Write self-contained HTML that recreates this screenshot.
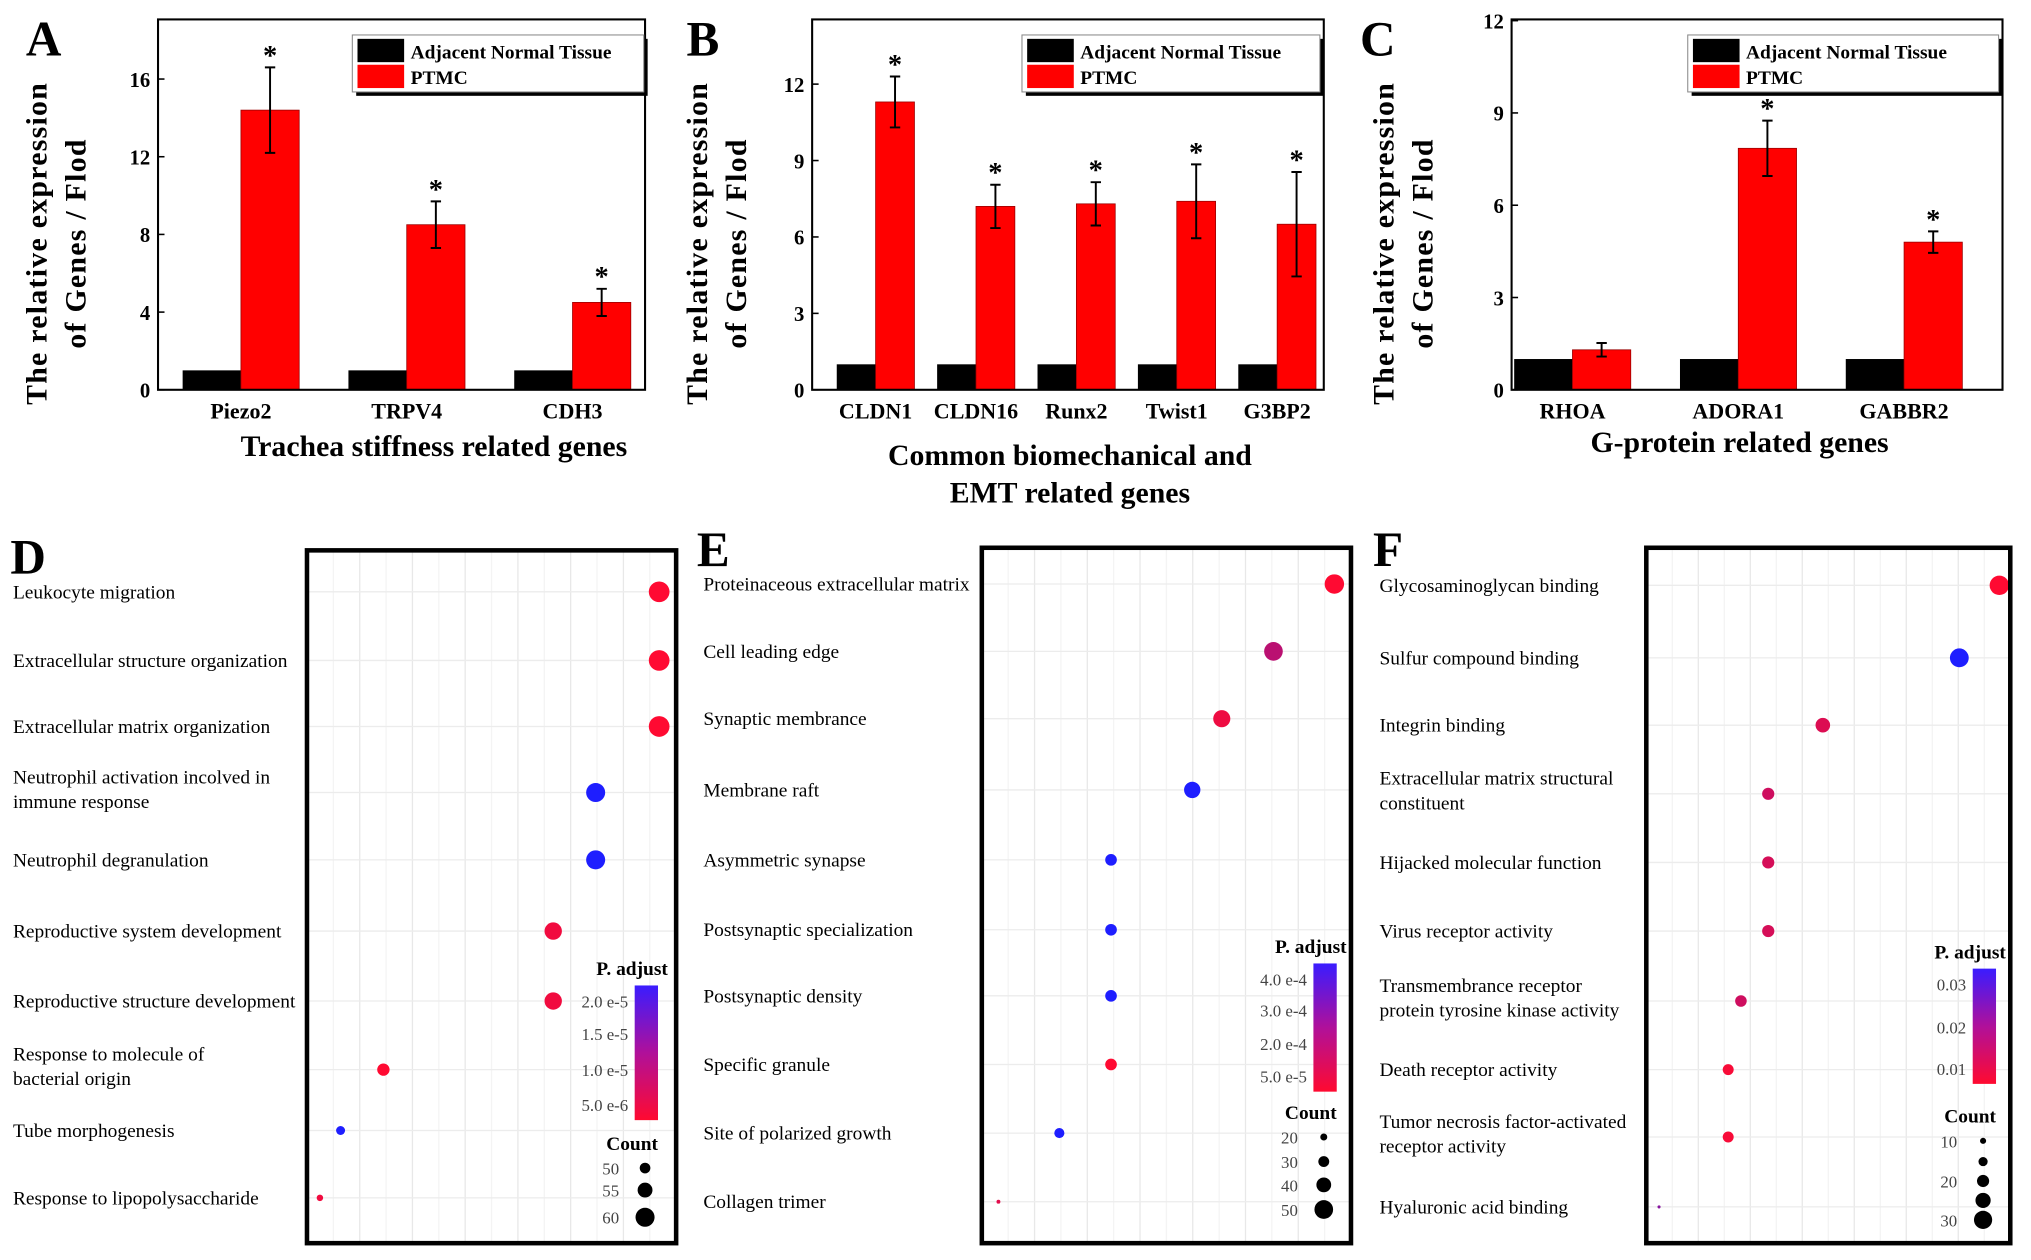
<!DOCTYPE html>
<html><head><meta charset="utf-8"><style>
html,body{margin:0;padding:0;background:#fff;}
svg{display:block;}
text{font-family:"Liberation Serif",serif;}
</style></head><body>
<svg id="fig" width="2031" height="1260" viewBox="0 0 1568 973" preserveAspectRatio="none" xmlns="http://www.w3.org/2000/svg">
<rect width="1568" height="973" fill="#fff"/>
</svg>
<script>
// ---- Panel A data ----
const aCategories = ["Piezo2","TRPV4","CDH3"];
const aNormal = [1,1,1];
const aPTMC = [14.4,8.5,4.5];
const aErr = [2.2,1.2,0.7];
const aStar = [true,true,true];
const aTicks = [0,4,8,12,16];
// ---- Panel B data ----
const bCategories = ["CLDN1","CLDN16","Runx2","Twist1","G3BP2"];
const bNormal = [1,1,1,1,1];
const bPTMC = [11.3,7.2,7.3,7.4,6.5];
const bErr = [1.0,0.85,0.85,1.45,2.05];
const bStar = [true,true,true,true,true];
const bTicks = [0,3,6,9,12];
// ---- Panel C data ----
const cCategories = ["RHOA","ADORA1","GABBR2"];
const cNormal = [1,1,1];
const cPTMC = [1.3,7.85,4.8];
const cErr = [0.22,0.9,0.35];
const cStar = [false,true,true];
const cTicks = [0,3,6,9,12];
// ---- Panel D data ----
const dTerms = [["Leukocyte migration"],["Extracellular structure organization"],["Extracellular matrix organization"],["Neutrophil activation incolved in","immune response"],["Neutrophil degranulation"],["Reproductive system development"],["Reproductive structure development"],["Response to molecule of","bacterial origin"],["Tube morphogenesis"],["Response to lipopolysaccharide"]];
const dRatio = [0.954,0.954,0.954,0.782,0.782,0.667,0.667,0.207,0.091,0.035];
const dCount = [62,62,62,60,60,58,58,52,48,45];
const dPadj = [3e-6,3e-6,3e-6,2.2e-5,2.2e-5,6e-6,6e-6,5e-6,2.2e-5,6e-6];
const dPTicks = ["2.0 e-5","1.5 e-5","1.0 e-5","5.0 e-6"];
const dCountTicks = [50,55,60];
// ---- Panel E data ----
const eTerms = [["Proteinaceous extracellular matrix"],["Cell leading edge"],["Synaptic membrance"],["Membrane raft"],["Asymmetric synapse"],["Postsynaptic specialization"],["Postsynaptic density"],["Specific granule"],["Site of polarized growth"],["Collagen trimer"]];
const eRatio = [0.955,0.79,0.65,0.57,0.35,0.35,0.35,0.35,0.21,0.045];
const eCount = [52,50,46,44,32,32,32,32,28,12];
const ePadj = [2e-5,1.5e-4,6e-5,4.4e-4,4.4e-4,4.4e-4,4.4e-4,3e-5,4.4e-4,8e-5];
const ePTicks = ["4.0 e-4","3.0 e-4","2.0 e-4","5.0 e-5"];
const eCountTicks = [20,30,40,50];
// ---- Panel F data ----
const fTerms = [["Glycosaminoglycan binding"],["Sulfur compound binding"],["Integrin binding"],["Extracellular matrix structural","constituent"],["Hijacked molecular function"],["Virus receptor activity"],["Transmembrance receptor","protein tyrosine kinase activity"],["Death receptor activity"],["Tumor necrosis factor-activated","receptor activity"],["Hyaluronic acid binding"]];
const fRatio = [0.97,0.86,0.485,0.335,0.335,0.335,0.26,0.225,0.225,0.035];
const fCount = [32,31,24,20,20,20,19,18,18,5];
const fPadj = [0.003,0.035,0.008,0.01,0.009,0.009,0.01,0.004,0.004,0.02];
const fPTicks = ["0.03","0.02","0.01"];
const fCountTicks = [10,"",20,"",30];

const NS="http://www.w3.org/2000/svg";
const svg=document.getElementById('fig');
function mk(tag,attrs,parent,txt){const e=document.createElementNS(NS,tag);for(const k in attrs)e.setAttribute(k,attrs[k]);if(txt!==undefined)e.textContent=txt;(parent||svg).appendChild(e);return e;}

function barPanel(letter,lx,fx0,fx1,fy0,fy1,ymax,cats,normal,ptmc,err,stars,ticks,firstC,step,bw,titleLines,titleX,titleY,ytX,legX0,legX1,prefix){
  const g=mk('g',{});
  
  
  const y=v=>fy1-(v/ymax)*(fy1-fy0);
  const L=mk('text',{x:lx,y:43,'font-size':38,'font-weight':'bold'},g,letter);
  
  
  cats.forEach((c,i)=>{
    const cx=firstC+i*step;
    const b1=mk('rect',{x:cx-bw,y:y(normal[i]),width:bw,height:y(0)-y(normal[i]),fill:'#000'},g);
    
    
    const b2=mk('rect',{x:cx,y:y(ptmc[i]),width:bw,height:y(0)-y(ptmc[i]),fill:'#f00',stroke:'#900','stroke-width':0.6},g);
    
    
    const ex=cx+bw/2, t=y(ptmc[i]+err[i]), bo=y(ptmc[i]-err[i]);
    const eb=mk('path',{d:`M${ex},${t}V${bo}M${ex-4},${t}H${ex+4}M${ex-4},${bo}H${ex+4}`,stroke:'#000','stroke-width':1.5,fill:'none'},g);
    
    
    if(stars[i]){
      const st=mk('text',{x:ex,y:t-2,'font-size':22,'text-anchor':'middle','font-weight':'bold'},g,'*');
      
      
    }
    const tl=mk('text',{x:cx,y:fy1+22,'font-size':17,'font-weight':'bold','text-anchor':'middle'},g,c);
    
    
  });
  ticks.forEach(v=>{
    mk('line',{x1:fx0,x2:fx0+5,y1:y(v),y2:y(v),stroke:'#000','stroke-width':1.2},g);
    const tt=mk('text',{x:fx0-6,y:y(v)+6,'font-size':16,'font-weight':'bold','text-anchor':'end'},g,String(v));
    
    
  });
  const fr=mk('rect',{x:fx0,y:fy0,width:fx1-fx0,height:fy1-fy0,fill:'none',stroke:'#000','stroke-width':1.6},g);
  
  
  titleLines.forEach((s,i)=>{
    const xt=mk('text',{x:titleX,y:titleY+i*29,'font-size':23,'font-weight':'bold','text-anchor':'middle'},g,s);
    
    
  });
  const cy=(fy0+fy1)/2+30;
  const yt1=mk('text',{x:0,y:0,'font-size':23,'font-weight':'bold','text-anchor':'middle','letter-spacing':1,transform:`translate(${ytX},${cy}) rotate(-90)`},g,'The relative expression');
  
  
  const yt2=mk('text',{x:0,y:0,'font-size':23,'font-weight':'bold','text-anchor':'middle','letter-spacing':1,transform:`translate(${ytX+30},${cy}) rotate(-90)`},g,'of Genes / Flod');
  
  
  const lg=mk('g',{},g);
  
  
  mk('rect',{x:legX0+3,y:30,width:legX1-legX0,height:44,fill:'#000'},lg);
  mk('rect',{x:legX0,y:27,width:legX1-legX0,height:44,fill:'#fff',stroke:'#888','stroke-width':0.8},lg);
  mk('rect',{x:legX0+4,y:30,width:36,height:18,fill:'#000'},lg);
  mk('rect',{x:legX0+4,y:50,width:36,height:18,fill:'#f00'},lg);
  const le1=mk('text',{x:legX0+45,y:45,'font-size':15,'font-weight':'bold'},lg,'Adjacent Normal Tissue');
  
  
  const le2=mk('text',{x:legX0+45,y:65,'font-size':15,'font-weight':'bold'},lg,'PTMC');
  
  
}
barPanel('A',20,122,498,15,301,19.07,aCategories,aNormal,aPTMC,aErr,aStar,aTicks,186,128,45,['Trachea stiffness related genes'],335,352,36,272,497,'panel-a');
barPanel('B',530,627,1022,15,301,14.54,bCategories,bNormal,bPTMC,bErr,bStar,bTicks,676,77.5,30,['Common biomechanical and','EMT related genes'],826,359,546,789,1019,'panel-b');
barPanel('C',1050,1167,1546,15,301,12.04,cCategories,cNormal,cPTMC,cErr,cStar,cTicks,1214,128,45,['G-protein related genes'],1343,349,1076,1303,1543,'panel-c');

function pcolor(t){ // t: 0 red -> 1 blue
  const r=Math.round(255*(1-t)+30*t), gg=Math.round(10*(1-t)+30*t), b=Math.round(50*(1-t)+255*t);
  return `rgb(${r},${gg},${b})`;
}
function dotPanel(letter,lx,ly,labX,fx0,fx1,fy0,fy1,rowsY,terms,ratio,count,padj,pmin,pmax,rmin,rmax,cmin,cmax,pTicks,pTickY,cTicks,cTickY,legX,prefix){
  const g=mk('g',{});
  
  
  const L=mk('text',{x:lx,y:ly,'font-size':38,'font-weight':'bold'},g,letter);
  
  
  const xs=v=>fx0+v*(fx1-fx0);
  const rs=c=>rmin+(c-cmin)/(cmax-cmin)*(rmax-rmin);
  const cs=p=>pcolor(Math.max(0,Math.min(1,(p-pmin)/(pmax-pmin))));
  for(let k=1;k<14;k++){mk('line',{x1:fx0+k*(fx1-fx0)/14,x2:fx0+k*(fx1-fx0)/14,y1:fy0,y2:fy1,stroke:k%2?'#f4f4f4':'#e8e8e8','stroke-width':1},g);}
  terms.forEach((t,i)=>{
    const yy=rowsY[i];
    mk('line',{x1:fx0,x2:fx1,y1:yy,y2:yy,stroke:'#ececec','stroke-width':1},g);
    t.forEach((s,j)=>{
      const off=t.length===1?5:(j===0?-7:12);
      const tx=mk('text',{x:labX,y:yy+off,'font-size':15},g,s);
      
      
    });
    const c=mk('circle',{cx:xs(ratio[i]),cy:yy,r:Math.max(1.2,rs(count[i])),fill:cs(padj[i])},g);
    
    
  });
  const lg=mk('g',{},g);
  
  
  mk('text',{x:legX,y:pTickY[0]-20,'font-size':15,'font-weight':'bold','text-anchor':'middle'},lg,'P. adjust');
  const gid=prefix+'-grad';
  const defs=mk('defs',{},lg);const gr=mk('linearGradient',{id:gid,x1:0,y1:0,x2:0,y2:1},defs);
  mk('stop',{offset:'0','stop-color':'#3a1cff'},gr);mk('stop',{offset:'0.5','stop-color':'#b0109a'},gr);mk('stop',{offset:'1','stop-color':'#ff0a30'},gr);
  const cbTop=pTickY[0]-12, cbBot=pTickY[pTickY.length-1]+12;
  const cb=mk('rect',{x:legX+2,y:cbTop,width:18,height:cbBot-cbTop,fill:`url(#${gid})`},lg);
  
  
  pTicks.forEach((s,i)=>{mk('text',{x:legX-3,y:pTickY[i]+5,'font-size':13,'fill':'#444','text-anchor':'end'},lg,s);});
  mk('text',{x:legX,y:cTickY[0]-14,'font-size':15,'font-weight':'bold','text-anchor':'middle'},lg,'Count');
  cTicks.forEach((v,i)=>{
    if(v!=="")mk('text',{x:legX-10,y:cTickY[i]+5,'font-size':13,'fill':'#444','text-anchor':'end'},lg,String(v));
    const cv=v===""?(cTicks[i-1]+cTicks[i+1])/2:v;
    mk('circle',{cx:legX+10,cy:cTickY[i],r:rs(cv),fill:'#000'},lg);
  });
  const fr=mk('rect',{x:fx0,y:fy0,width:fx1-fx0,height:fy1-fy0,fill:'none',stroke:'#000','stroke-width':3.5},g);
  
  
}
dotPanel('D',8,443,10,237,522,425,960,[457,510,561,612,664,719,773,826,873,925],dTerms,dRatio,dCount,dPadj,5e-6,2.1e-5,2.5,8,45,62,dPTicks,[773,798,826,853],dCountTicks,[902,919,940],488,'panel-d');
dotPanel('E',538,437,543,758,1043,423,960,[451,503,555,610,664,718,769,822,875,928],eTerms,eRatio,eCount,ePadj,3e-5,4.2e-4,1.5,7.5,12,52,ePTicks,[756,780,806,831],eCountTicks,[878,897,915,934],1012,'panel-e');
dotPanel('F',1060,437,1065,1271,1552,423,960,[452,508,560,613,666,719,773,826,878,932],fTerms,fRatio,fCount,fPadj,0.003,0.035,1.2,7.5,5,32,fPTicks,[760,793,825],fCountTicks,[881,897,912,927,942],1521,'panel-f');
</script>
</body></html>
